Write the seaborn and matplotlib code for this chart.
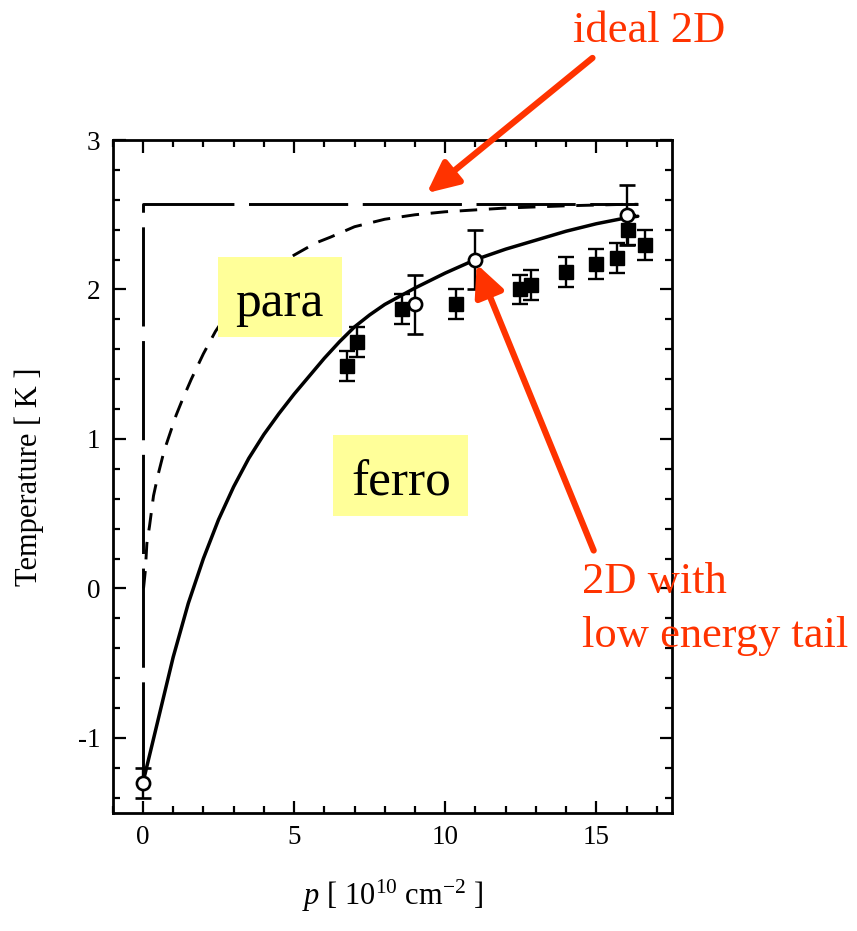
import matplotlib
matplotlib.use("Agg")
import matplotlib.pyplot as plt
import seaborn as sns
import numpy as np
import pandas as pd
from matplotlib.patches import Rectangle
from matplotlib.ticker import MultipleLocator

# ---- data ----
sq_p = [6.74, 7.07, 8.56, 10.34, 12.46, 12.83, 14.01, 14.98, 15.68, 16.04, 16.62]
sq_T = [1.49, 1.65, 1.87, 1.90, 2.00, 2.03, 2.12, 2.17, 2.21, 2.40, 2.30]
sq_err = [0.1, 0.1, 0.1, 0.1, 0.1, 0.1, 0.1, 0.1, 0.1, 0.1, 0.1]

circ_p = [0.0, 9.0, 11.0, 16.0]
circ_T = [-1.30, 1.90, 2.20, 2.50]
circ_err = [0.1, 0.2, 0.2, 0.2]

tail_p = [0.0, 0.5, 1.0, 1.5, 2.0, 2.5, 3.0, 3.5, 4.0, 4.5, 5.0, 5.5, 6.0,
          6.5, 7.0, 7.5, 8.0, 9.0, 10.0, 11.0, 12.0, 13.0, 14.0, 15.0, 16.0, 16.37]
tail_T = [-1.30, -0.88, -0.46, -0.10, 0.20, 0.46, 0.68, 0.87, 1.03, 1.17, 1.30,
          1.42, 1.54, 1.65, 1.75, 1.83, 1.90, 2.01, 2.11, 2.20, 2.27, 2.33, 2.39,
          2.44, 2.48, 2.49]

dash_p = [0.02, 0.08, 0.13, 0.22, 0.35, 0.5, 0.7, 0.9, 1.1, 1.3, 1.6, 2.0, 2.4,
          3.0, 4.0, 5.0, 5.7, 6.2, 7.0, 8.0, 9.0, 10.0, 12.0, 14.0, 16.0, 16.37]
dash_T = [0.0, 0.12, 0.30, 0.42, 0.62, 0.76, 0.92, 1.04, 1.16, 1.26, 1.40, 1.57,
          1.72, 1.90, 2.10, 2.23, 2.31, 2.35, 2.42, 2.47, 2.50, 2.52, 2.545,
          2.56, 2.57, 2.57]

ideal_p = [0.0, 0.0, 16.37]
ideal_T = [-1.29, 2.57, 2.57]

xticks = [0, 5, 10, 15]
yticks = [-1, 0, 1, 2, 3]

RED = "#FF3300"
YEL = "#FFFF99"

sns.set_style("ticks")
plt.rcParams["font.family"] = ["Liberation Serif", "DejaVu Serif"]
plt.rcParams["mathtext.fontset"] = "custom"
plt.rcParams["mathtext.rm"] = "Liberation Serif"
plt.rcParams["mathtext.it"] = "Liberation Serif:italic"
plt.rcParams["axes.unicode_minus"] = False
for k in ["text.color", "axes.labelcolor", "xtick.color", "ytick.color",
          "axes.edgecolor"]:
    plt.rcParams[k] = "black"

fig = plt.figure(figsize=(8.57, 9.31), dpi=100)
ax = fig.add_axes([0.1315, 0.1271, 0.6526, 0.7225])

df_ideal = pd.DataFrame({"p": ideal_p, "T": ideal_T})
df_dash = pd.DataFrame({"p": dash_p, "T": dash_T})
df_tail = pd.DataFrame({"p": tail_p, "T": tail_T})

sns.lineplot(data=df_ideal, x="p", y="T", sort=False, estimator=None,
             color="black", lw=2.1, ax=ax, zorder=2)
ax.lines[-1].set_dashes((34, 5))
sns.lineplot(data=df_dash, x="p", y="T", sort=False, estimator=None,
             color="black", lw=2.1, ax=ax, zorder=2)
ax.lines[-1].set_dashes((6, 4))
sns.lineplot(data=df_tail, x="p", y="T", sort=False, estimator=None,
             color="black", lw=2.5, ax=ax, zorder=4)

# label boxes
ax.add_patch(Rectangle((2.47, 1.68), 4.12, 0.536, facecolor=YEL,
                       edgecolor="none", zorder=3))
ax.add_patch(Rectangle((6.29, 0.488), 4.46, 0.536, facecolor=YEL,
                       edgecolor="none", zorder=3))
ax.text(4.50, 1.821, "para", fontsize=37, ha="center", va="baseline", zorder=3.5)
ax.text(8.55, 0.622, "ferro", fontsize=37, ha="center", va="baseline", zorder=3.5)

ax.errorbar(sq_p, sq_T, yerr=sq_err, fmt="s", color="black", ms=10,
            capsize=5.5, elinewidth=1.7, capthick=1.7, zorder=5)
ax.errorbar(circ_p, circ_T, yerr=circ_err, fmt="o", mfc="white",
            mec="black", mew=1.9, color="black", ms=9.5,
            capsize=5.5, elinewidth=1.7, capthick=1.7, zorder=6)

ax.set_xlim(-1.0, 17.5)
ax.set_ylim(-1.5, 3.0)
ax.set_xticks(xticks)
ax.set_yticks(yticks)
ax.xaxis.set_minor_locator(MultipleLocator(1))
ax.yaxis.set_minor_locator(MultipleLocator(0.2))
ax.tick_params(which="both", direction="in", top=True, right=True,
               width=1.6, color="black", labelsize=19.5, pad=9)
ax.tick_params(which="major", length=9)
ax.tick_params(which="minor", length=5)
for s in ax.spines.values():
    s.set_linewidth(2.0)
    s.set_color("black")

ax.set_xlabel(r"$p$ [ 10$^{10}$ cm$^{-2}$ ]", fontsize=22, labelpad=20)
ax.set_ylabel("Temperature [ K ]", fontsize=22, labelpad=24)

# annotations
arrow_kw = dict(arrowstyle="-|>,head_length=0.95,head_width=0.45",
                color=RED, lw=4.5, shrinkA=0, shrinkB=0, mutation_scale=20)
ax.annotate("", xy=(9.39, 2.645), xytext=(14.87, 3.549),
            arrowprops=arrow_kw, annotation_clip=False, zorder=7)
ax.annotate("", xy=(11.04, 2.17), xytext=(14.91, 0.254),
            arrowprops=arrow_kw, annotation_clip=False, zorder=7)
ax.text(16.73, 3.656, "ideal 2D", color=RED, fontsize=32, ha="center",
        va="baseline", clip_on=False)
ax.text(14.51, -0.031, "2D with", color=RED, fontsize=32, ha="left",
        va="baseline", clip_on=False)
ax.text(14.51, -0.393, "low energy tail", color=RED, fontsize=32, ha="left",
        va="baseline", clip_on=False)

fig.savefig("out.png", dpi=100)
